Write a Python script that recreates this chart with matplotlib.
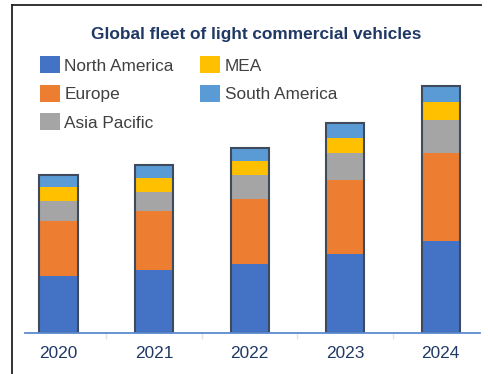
import matplotlib
matplotlib.use("Agg")
import matplotlib.pyplot as plt
import numpy as np
from matplotlib.lines import Line2D

# Fleet size by region (stacked bottom to top)
years = ["2020", "2021", "2022", "2023", "2024"]
north_america = [57, 63, 69, 79, 92]
europe = [55, 59, 65, 74, 88]
asia_pacific = [20, 19, 24, 27, 33]
mea = [14, 14, 14, 15, 18]
south_america = [12, 13, 13, 15, 16]

series = [
    ("North America", north_america, "#4472C4"),
    ("Europe", europe, "#ED7D31"),
    ("Asia Pacific", asia_pacific, "#A5A5A5"),
    ("MEA", mea, "#FFC000"),
    ("South America", south_america, "#5B9BD5"),
]

plt.rcParams["font.family"] = ["Liberation Sans", "DejaVu Sans"]

W, H = 489, 374
fig = plt.figure(figsize=(W / 100, H / 100), dpi=100)
ax = fig.add_axes([25 / W, (H - 333) / H, 455 / W, 328 / H])

x = np.arange(len(years))
width = 0.40
bottom = np.zeros(len(years))
handles = []
for name, vals, color in series:
    vals = np.array(vals, dtype=float)
    b = ax.bar(x, vals, width, bottom=bottom, color=color, linewidth=0, label=name, zorder=2)
    handles.append(b)
    bottom += vals

# outline around each full stack
ax.bar(x, bottom, width, fill=False, edgecolor="#3F4A5C", linewidth=1.5, zorder=3)

ax.set_xlim(-0.35, 4.41)
ax.set_ylim(0, 328)

for side in ("top", "right", "left"):
    ax.spines[side].set_visible(False)
ax.spines["bottom"].set_color("#5B8BD0")
ax.spines["bottom"].set_linewidth(1.3)
ax.spines["bottom"].set_zorder(4)
ax.set_yticks([])

ax.set_xticks(x)
ax.set_xticklabels(years, fontsize=12.4, color="#1F3864")
ax.tick_params(axis="x", which="major", length=0, pad=9.5)
ax.set_xticks(x[:-1] + 0.5, minor=True)
ax.tick_params(axis="x", which="minor", length=4, width=1, color="#E2E2E2")

fig.text(256.5 / W, 1 - 39.3 / H, "Global fleet of light commercial vehicles",
         ha="center", va="baseline", fontsize=12.4, fontweight="bold", color="#1F3864")

ax.legend(handles=handles, ncol=2, loc="upper left",
          bbox_to_anchor=(40 / W, 1 - 56.5 / H), bbox_transform=fig.transFigure,
          frameon=False, fontsize=12.4, labelcolor="#404040",
          handlelength=1.16, handleheight=1.1, handletextpad=0.25,
          columnspacing=1.55, labelspacing=0.66, borderpad=0, borderaxespad=0)

# partial frame around the chart area
fig.add_artist(Line2D([12 / W, 12 / W], [1 - 5 / H, 0], transform=fig.transFigure,
                      color="#222222", linewidth=1.3))
fig.add_artist(Line2D([12 / W, 481 / W], [1 - 5 / H, 1 - 5 / H], transform=fig.transFigure,
                      color="#222222", linewidth=1.3))

fig.savefig("out.png", dpi=100)
